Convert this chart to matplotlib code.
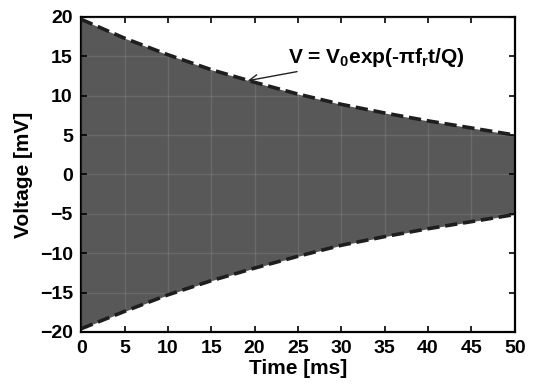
import matplotlib
matplotlib.use('Agg')
import matplotlib.pyplot as plt

plt.rcParams['font.family'] = ['Liberation Sans', 'DejaVu Sans']
plt.rcParams['font.weight'] = 'bold'
plt.rcParams['mathtext.fontset'] = 'custom'
plt.rcParams['mathtext.rm'] = 'Liberation Sans:bold'
plt.rcParams['mathtext.it'] = 'Liberation Sans:bold'
plt.rcParams['mathtext.bf'] = 'Liberation Sans:bold'
plt.rcParams['mathtext.default'] = 'rm'

# envelope, every 5 ms
time_ms = [0, 5, 10, 15, 20, 25, 30, 35, 40, 45, 50]
upper_mv = [19.7, 17.3, 15.2, 13.3, 11.7, 10.2, 8.9, 7.8, 6.8, 5.9, 5.0]
lower_mv = [-19.6, -17.4, -15.3, -13.5, -11.9, -10.4, -9.0, -7.9, -6.9, -6.0, -5.1]

xticks = [0, 5, 10, 15, 20, 25, 30, 35, 40, 45, 50]
yticks = [-20, -15, -10, -5, 0, 5, 10, 15, 20]

fig = plt.figure(figsize=(5.34, 3.85), dpi=100)
ax = fig.add_subplot(111)
fig.subplots_adjust(left=0.152, right=0.964, top=0.956, bottom=0.138)

# dense oscillation shows up as a filled band
ax.fill_between(time_ms, lower_mv, upper_mv, color='#585858', lw=0, zorder=1)
ax.grid(True, color='white', alpha=0.1, lw=1.0, zorder=2)
ax.set_axisbelow(False)

ax.plot(time_ms, upper_mv, color='#1e1e1e', lw=2.6, ls=(0, (3.4, 1.6)), zorder=3)
ax.plot(time_ms, lower_mv, color='#1e1e1e', lw=2.6, ls=(0, (3.4, 1.6)), zorder=3)

ax.annotate(r'V = V$_0$exp(-πf$_r$t/Q)', xy=(19.2, 11.9), xytext=(23.8, 14.9),
            fontsize=15, fontweight='bold', va='center', ha='left',
            arrowprops=dict(arrowstyle='->', color='#222222', lw=1.0,
                            shrinkA=1, shrinkB=0))

ax.set_xlim(0, 50)
ax.set_ylim(-20, 20)
ax.set_xticks(xticks)
ax.set_yticks(yticks)
ax.tick_params(direction='in', top=True, right=True, length=4, width=1.2,
               labelsize=14)
ax.tick_params(axis='x', pad=6)
ax.tick_params(axis='y', pad=6)
for lab in ax.get_xticklabels() + ax.get_yticklabels():
    lab.set_fontweight('bold')
for sp in ax.spines.values():
    sp.set_linewidth(1.6)

ax.set_xlabel('Time [ms]', fontsize=15, fontweight='bold', labelpad=1)
ax.set_ylabel('Voltage [mV]', fontsize=15, fontweight='bold', labelpad=5)

fig.savefig('out.png', dpi=100)
